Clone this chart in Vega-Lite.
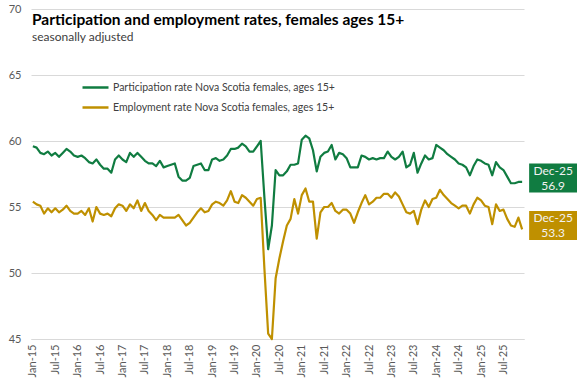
{
  "$schema": "https://vega.github.io/schema/vega-lite/v6.json",
  "width": 493,
  "height": 330,
  "autosize": {"type": "none"},
  "padding": {"left": 31, "top": 9, "right": 53, "bottom": 45},
  "background": "white",
  "config": {
    "view": {"stroke": null},
    "font": "Lato",
    "axis": {"labelFont": "Lato", "labelColor": "#595959", "labelFontSize": 11},
    "legend": {"labelFont": "Lato"}
  },
  "title": {
    "text": "Participation and employment rates, females ages 15+",
    "subtitle": "seasonally adjusted",
    "anchor": "start",
    "frame": "group",
    "orient": "top",
    "offset": -40,
    "dx": 1,
    "font": "Lato",
    "fontSize": 15.5,
    "fontWeight": "bold",
    "color": "#000000",
    "subtitleFont": "Lato",
    "subtitleFontSize": 12,
    "subtitleColor": "#404040",
    "subtitlePadding": 4
  },
  "datasets": {
    "rates": [
      {"m":"Jan-15","P":59.6,"E":55.4},{"m":"Feb-15","P":59.5,"E":55.2},{"m":"Mar-15","P":59.1,"E":55.1},{"m":"Apr-15","P":59.0,"E":54.5},{"m":"May-15","P":59.2,"E":54.9},{"m":"Jun-15","P":58.9,"E":54.6},
      {"m":"Jul-15","P":59.1,"E":54.9},{"m":"Aug-15","P":58.8,"E":54.6},{"m":"Sep-15","P":59.1,"E":54.8},{"m":"Oct-15","P":59.4,"E":55.1},{"m":"Nov-15","P":59.2,"E":54.7},{"m":"Dec-15","P":58.9,"E":54.5},
      {"m":"Jan-16","P":58.8,"E":54.5},{"m":"Feb-16","P":58.9,"E":54.7},{"m":"Mar-16","P":58.7,"E":54.4},{"m":"Apr-16","P":58.4,"E":54.9},{"m":"May-16","P":58.3,"E":53.9},{"m":"Jun-16","P":58.6,"E":55.0},
      {"m":"Jul-16","P":58.2,"E":54.5},{"m":"Aug-16","P":57.9,"E":54.4},{"m":"Sep-16","P":57.9,"E":54.5},{"m":"Oct-16","P":57.6,"E":54.3},{"m":"Nov-16","P":58.6,"E":54.9},{"m":"Dec-16","P":58.9,"E":55.2},
      {"m":"Jan-17","P":58.6,"E":55.1},{"m":"Feb-17","P":58.4,"E":54.7},{"m":"Mar-17","P":59.1,"E":55.2},{"m":"Apr-17","P":58.8,"E":54.9},{"m":"May-17","P":59.1,"E":55.5},{"m":"Jun-17","P":58.8,"E":54.7},
      {"m":"Jul-17","P":58.5,"E":55.3},{"m":"Aug-17","P":58.3,"E":54.7},{"m":"Sep-17","P":58.3,"E":54.4},{"m":"Oct-17","P":58.1,"E":54.0},{"m":"Nov-17","P":58.5,"E":54.4},{"m":"Dec-17","P":58.0,"E":54.2},
      {"m":"Jan-18","P":58.1,"E":54.2},{"m":"Feb-18","P":58.2,"E":54.2},{"m":"Mar-18","P":58.3,"E":54.2},{"m":"Apr-18","P":57.3,"E":54.4},{"m":"May-18","P":57.0,"E":54.0},{"m":"Jun-18","P":57.0,"E":53.6},
      {"m":"Jul-18","P":57.2,"E":53.8},{"m":"Aug-18","P":58.1,"E":54.2},{"m":"Sep-18","P":58.2,"E":54.6},{"m":"Oct-18","P":58.3,"E":54.9},{"m":"Nov-18","P":57.8,"E":54.6},{"m":"Dec-18","P":57.8,"E":54.7},
      {"m":"Jan-19","P":58.6,"E":55.2},{"m":"Feb-19","P":58.7,"E":55.4},{"m":"Mar-19","P":58.5,"E":55.3},{"m":"Apr-19","P":58.6,"E":55.1},{"m":"May-19","P":58.9,"E":55.5},{"m":"Jun-19","P":59.4,"E":56.2},
      {"m":"Jul-19","P":59.4,"E":55.4},{"m":"Aug-19","P":59.5,"E":55.3},{"m":"Sep-19","P":59.8,"E":55.9},{"m":"Oct-19","P":59.6,"E":55.7},{"m":"Nov-19","P":59.2,"E":55.4},{"m":"Dec-19","P":59.2,"E":55.1},
      {"m":"Jan-20","P":59.6,"E":55.6},{"m":"Feb-20","P":60.0,"E":55.7},{"m":"Mar-20","P":55.7,"E":50.3},{"m":"Apr-20","P":51.8,"E":45.4},{"m":"May-20","P":53.6,"E":45.0},{"m":"Jun-20","P":57.8,"E":49.6},
      {"m":"Jul-20","P":57.4,"E":51.1},{"m":"Aug-20","P":57.4,"E":52.4},{"m":"Sep-20","P":57.7,"E":53.6},{"m":"Oct-20","P":58.2,"E":54.1},{"m":"Nov-20","P":58.2,"E":55.6},{"m":"Dec-20","P":58.3,"E":54.5},
      {"m":"Jan-21","P":60.1,"E":55.9},{"m":"Feb-21","P":60.4,"E":56.4},{"m":"Mar-21","P":60.2,"E":55.4},{"m":"Apr-21","P":59.3,"E":55.4},{"m":"May-21","P":57.7,"E":52.6},{"m":"Jun-21","P":58.8,"E":54.6},
      {"m":"Jul-21","P":59.1,"E":55.0},{"m":"Aug-21","P":59.2,"E":55.0},{"m":"Sep-21","P":59.7,"E":55.3},{"m":"Oct-21","P":58.6,"E":54.7},{"m":"Nov-21","P":59.1,"E":54.5},{"m":"Dec-21","P":59.0,"E":54.8},
      {"m":"Jan-22","P":58.7,"E":54.8},{"m":"Feb-22","P":58.0,"E":54.5},{"m":"Mar-22","P":58.0,"E":53.8},{"m":"Apr-22","P":58.0,"E":54.6},{"m":"May-22","P":58.9,"E":55.3},{"m":"Jun-22","P":58.8,"E":55.9},
      {"m":"Jul-22","P":58.6,"E":55.2},{"m":"Aug-22","P":58.7,"E":55.4},{"m":"Sep-22","P":58.6,"E":55.7},{"m":"Oct-22","P":58.7,"E":55.7},{"m":"Nov-22","P":58.7,"E":56.0},{"m":"Dec-22","P":59.2,"E":56.0},
      {"m":"Jan-23","P":58.8,"E":55.7},{"m":"Feb-23","P":58.6,"E":56.1},{"m":"Mar-23","P":58.8,"E":55.8},{"m":"Apr-23","P":59.2,"E":55.2},{"m":"May-23","P":58.0,"E":54.6},{"m":"Jun-23","P":58.2,"E":54.5},
      {"m":"Jul-23","P":59.1,"E":54.7},{"m":"Aug-23","P":57.6,"E":53.7},{"m":"Sep-23","P":58.3,"E":54.8},{"m":"Oct-23","P":58.9,"E":55.5},{"m":"Nov-23","P":58.6,"E":55.0},{"m":"Dec-23","P":58.7,"E":55.6},
      {"m":"Jan-24","P":59.7,"E":55.7},{"m":"Feb-24","P":59.5,"E":56.3},{"m":"Mar-24","P":59.3,"E":55.9},{"m":"Apr-24","P":59.0,"E":55.6},{"m":"May-24","P":58.8,"E":55.3},{"m":"Jun-24","P":58.6,"E":55.1},
      {"m":"Jul-24","P":58.3,"E":54.9},{"m":"Aug-24","P":58.2,"E":55.1},{"m":"Sep-24","P":58.0,"E":55.1},{"m":"Oct-24","P":57.4,"E":54.5},{"m":"Nov-24","P":58.1,"E":55.2},{"m":"Dec-24","P":58.6,"E":55.7},
      {"m":"Jan-25","P":58.5,"E":55.5},{"m":"Feb-25","P":58.3,"E":55.1},{"m":"Mar-25","P":58.2,"E":55.0},{"m":"Apr-25","P":57.4,"E":53.7},{"m":"May-25","P":58.4,"E":55.2},{"m":"Jun-25","P":58.0,"E":54.7},
      {"m":"Jul-25","P":57.8,"E":54.8},{"m":"Aug-25","P":57.3,"E":54.1},{"m":"Sep-25","P":56.8,"E":53.6},{"m":"Oct-25","P":56.8,"E":53.5},{"m":"Nov-25","P":56.9,"E":54.2},{"m":"Dec-25","P":56.9,"E":53.3}
    ],
    "ends": [
      {"m":"Dec-25","s":"P","v":56.9,"top":"Dec-25","val":"56.9"},
      {"m":"Dec-25","s":"E","v":53.3,"top":"Dec-25","val":"53.3"}
    ]
  },
  "layer": [
    {
      "data": {"name": "rates"},
      "transform": [{"fold": ["P", "E"], "as": ["s", "v"]}],
      "mark": {"type": "line", "strokeWidth": 2.2, "strokeJoin": "round"},
      "encoding": {
        "x": {
          "field": "m", "type": "ordinal", "sort": null,
          "scale": {"type": "point", "padding": 0.5},
          "axis": {
            "title": null,
            "values": ["Jan-15","Jul-15","Jan-16","Jul-16","Jan-17","Jul-17","Jan-18","Jul-18","Jan-19","Jul-19","Jan-20","Jul-20","Jan-21","Jul-21","Jan-22","Jul-22","Jan-23","Jul-23","Jan-24","Jul-24","Jan-25","Jul-25"],
            "labelAngle": -90,
            "labelPadding": 5,
            "ticks": false,
            "grid": false,
            "domain": true,
            "domainColor": "#d9d9d9",
            "domainWidth": 1
          }
        },
        "y": {
          "field": "v", "type": "quantitative",
          "scale": {"domain": [45, 70], "nice": false, "zero": false},
          "axis": {
            "title": null,
            "values": [45, 50, 55, 60, 65, 70],
            "domain": false,
            "ticks": false,
            "labelPadding": 10,
            "gridColor": "#d9d9d9",
            "gridWidth": 1
          }
        },
        "color": {
          "field": "s", "type": "nominal",
          "scale": {"domain": ["P", "E"], "range": ["#107c41", "#bf9000"]},
          "legend": {
            "title": null,
            "orient": "none",
            "legendX": 50,
            "legendY": 64,
            "symbolType": "stroke",
            "symbolSize": 676,
            "symbolStrokeWidth": 2.5,
            "rowPadding": -6,
            "labelFontSize": 10.5,
            "labelLimit": 0,
            "labelColor": "#404040",
            "labelOffset": 3,
            "labelExpr": "datum.label == 'P' ? 'Participation rate Nova Scotia females, ages 15+' : 'Employment rate Nova Scotia females, ages 15+'"
          }
        }
      }
    },
    {
      "data": {"name": "ends"},
      "mark": {"type": "point", "filled": true, "opacity": 1, "shape": "M-1,-0.604H1V0.604H-1Z", "size": 2304},
      "encoding": {
        "x": {"field": "m", "type": "ordinal", "sort": null},
        "xOffset": {"value": 31},
        "y": {"field": "v", "type": "quantitative"},
        "yOffset": {"value": -4},
        "color": {"field": "s", "type": "nominal", "legend": null}
      }
    },
    {
      "data": {"name": "ends"},
      "mark": {"type": "text", "dx": 31, "dy": -11, "fontSize": 12, "color": "#f2f2f2", "align": "center", "baseline": "middle"},
      "encoding": {
        "x": {"field": "m", "type": "ordinal", "sort": null},
        "y": {"field": "v", "type": "quantitative"},
        "text": {"field": "top"}
      }
    },
    {
      "data": {"name": "ends"},
      "mark": {"type": "text", "dx": 31, "dy": 4, "fontSize": 12, "color": "#f2f2f2", "align": "center", "baseline": "middle"},
      "encoding": {
        "x": {"field": "m", "type": "ordinal", "sort": null},
        "y": {"field": "v", "type": "quantitative"},
        "text": {"field": "val"}
      }
    }
  ]
}
